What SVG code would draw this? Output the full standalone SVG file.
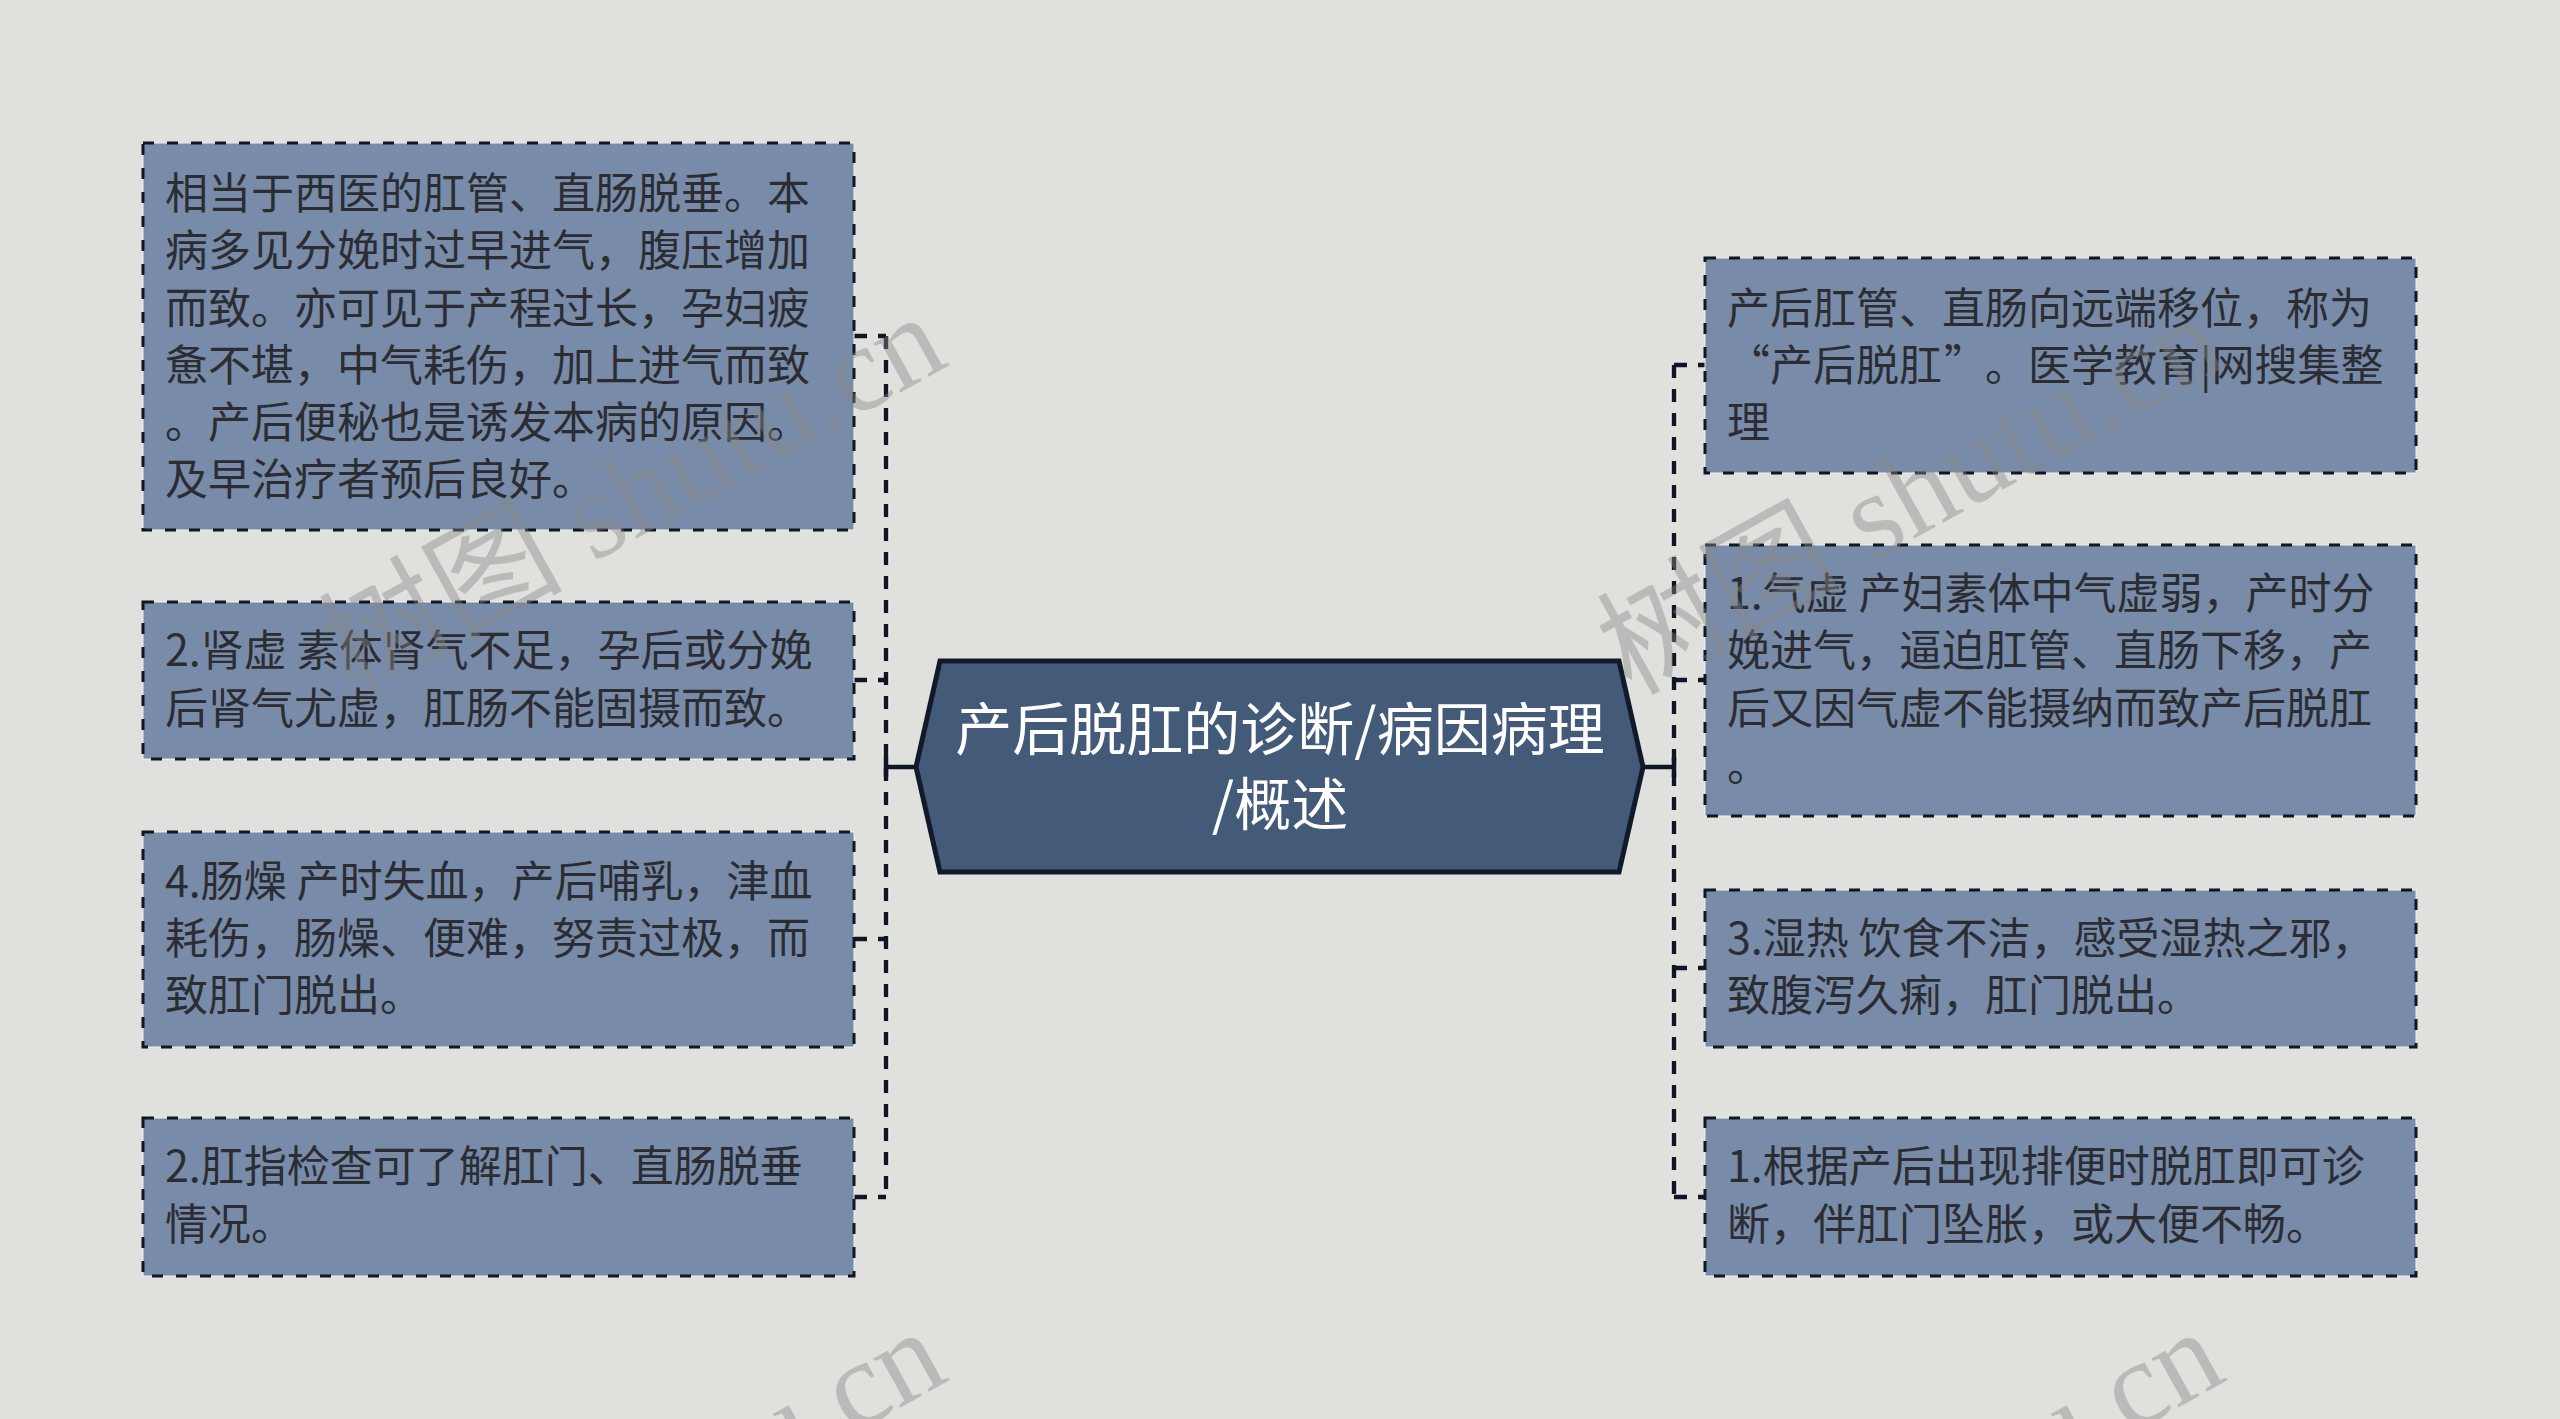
<svg xmlns="http://www.w3.org/2000/svg" width="2560" height="1419" viewBox="0 0 2560 1419">
<style>
.bg{fill:#e0e1dc}
.box{fill:#788ba8}
.boxhalo{fill:none;stroke:#eef0f2;stroke-width:1}
.boxline{fill:none;stroke:#0f1624;stroke-width:3;stroke-dasharray:11 13}
.t{font-family:"Noto Sans CJK SC","Noto Sans",sans-serif;font-size:43px;fill:#2c2d33}
.ct{font-family:"Noto Sans CJK SC","Noto Sans",sans-serif;font-size:57px;fill:#ffffff;text-anchor:middle}
.conn{fill:none;stroke:#0f1624;stroke-width:4.5;stroke-dasharray:13 11}
.connhalo{fill:none;stroke:#f4f5f4;stroke-width:7;stroke-dasharray:13 11}
.solid{fill:none;stroke:#0f1624;stroke-width:4.5}
.wm{font-family:"Liberation Serif","Noto Sans CJK SC",serif;font-size:122px;fill:#888888;opacity:0.42;text-anchor:middle}
</style>
<rect class="bg" x="0" y="0" width="2560" height="1419"/>

<g id="connectors">
  <path class="connhalo" d="M886,336 V1197"/>
  <path class="conn" d="M886,336 V1197"/>
  <path class="conn" d="M854,336 H886"/>
  <path class="conn" d="M854,680 H886"/>
  <path class="conn" d="M854,939 H886"/>
  <path class="conn" d="M854,1197 H886"/>
  <path class="solid" d="M886,767 H918"/>
  <path class="solid" d="M886,757 V777"/>
  <path class="connhalo" d="M1674,365 V1197"/>
  <path class="conn" d="M1674,365 V1197"/>
  <path class="conn" d="M1674,365 H1705"/>
  <path class="conn" d="M1674,680 H1705"/>
  <path class="conn" d="M1674,968 H1705"/>
  <path class="conn" d="M1674,1197 H1705"/>
  <path class="solid" d="M1641,767 H1674"/>
  <path class="solid" d="M1674,757 V777"/>
</g>

<g id="root">
  <polygon points="916,767 940,661 1619,661 1643,767 1619,872 940,872" fill="#435a78" stroke="#111a2a" stroke-width="5"/>
  <text class="ct" x="1280" y="750">产后脱肛的诊断/病因病理</text>
  <text class="ct" x="1280" y="825">/概述</text>
</g>

<g id="node-l1">
  <rect class="box" x="143" y="143" width="711" height="387"/>
  <rect class="boxhalo" x="143" y="143" width="711" height="387"/>
  <rect class="boxline" x="143" y="143" width="711" height="387"/>
  <text class="t">
    <tspan x="165" y="209">相当于西医的肛管、直肠脱垂。本</tspan>
    <tspan x="165" y="266">病多见分娩时过早进气，腹压增加</tspan>
    <tspan x="165" y="324">而致。亦可见于产程过长，孕妇疲</tspan>
    <tspan x="165" y="381">惫不堪，中气耗伤，加上进气而致</tspan>
    <tspan x="165" y="438">。产后便秘也是诱发本病的原因。</tspan>
    <tspan x="165" y="495">及早治疗者预后良好。</tspan>
  </text>
</g>

<g id="node-l2">
  <rect class="box" x="143" y="602" width="711" height="157"/>
  <rect class="boxhalo" x="143" y="602" width="711" height="157"/>
  <rect class="boxline" x="143" y="602" width="711" height="157"/>
  <text class="t">
    <tspan x="165" y="666">2.肾虚 素体肾气不足，孕后或分娩</tspan>
    <tspan x="165" y="724">后肾气尤虚，肛肠不能固摄而致。</tspan>
  </text>
</g>

<g id="node-l3">
  <rect class="box" x="143" y="832" width="711" height="215"/>
  <rect class="boxhalo" x="143" y="832" width="711" height="215"/>
  <rect class="boxline" x="143" y="832" width="711" height="215"/>
  <text class="t">
    <tspan x="165" y="897">4.肠燥 产时失血，产后哺乳，津血</tspan>
    <tspan x="165" y="954">耗伤，肠燥、便难，努责过极，而</tspan>
    <tspan x="165" y="1011">致肛门脱出。</tspan>
  </text>
</g>

<g id="node-l4">
  <rect class="box" x="143" y="1118" width="711" height="158"/>
  <rect class="boxhalo" x="143" y="1118" width="711" height="158"/>
  <rect class="boxline" x="143" y="1118" width="711" height="158"/>
  <text class="t">
    <tspan x="165" y="1182">2.肛指检查可了解肛门、直肠脱垂</tspan>
    <tspan x="165" y="1240">情况。</tspan>
  </text>
</g>

<g id="node-r1">
  <rect class="box" x="1705" y="258" width="711" height="215"/>
  <rect class="boxhalo" x="1705" y="258" width="711" height="215"/>
  <rect class="boxline" x="1705" y="258" width="711" height="215"/>
  <text class="t">
    <tspan x="1727" y="324">产后肛管、直肠向远端移位，称为</tspan>
  </text>
  <text class="t" x="1770" y="381" text-anchor="end">“</text>
  <text class="t" y="381"><tspan x="1770">产后脱肛</tspan><tspan x="1944">”</tspan><tspan x="1985">。医学教育|网搜集整</tspan></text>
  <text class="t" x="1727" y="438">理</text>
</g>

<g id="node-r2">
  <rect class="box" x="1705" y="545" width="711" height="271"/>
  <rect class="boxhalo" x="1705" y="545" width="711" height="271"/>
  <rect class="boxline" x="1705" y="545" width="711" height="271"/>
  <text class="t">
    <tspan x="1727" y="609">1.气虚 产妇素体中气虚弱，产时分</tspan>
    <tspan x="1727" y="666">娩进气，逼迫肛管、直肠下移，产</tspan>
    <tspan x="1727" y="724">后又因气虚不能摄纳而致产后脱肛</tspan>
    <tspan x="1727" y="781">。</tspan>
  </text>
</g>

<g id="node-r3">
  <rect class="box" x="1705" y="890" width="711" height="157"/>
  <rect class="boxhalo" x="1705" y="890" width="711" height="157"/>
  <rect class="boxline" x="1705" y="890" width="711" height="157"/>
  <text class="t">
    <tspan x="1727" y="954">3.湿热 饮食不洁，感受湿热之邪，</tspan>
    <tspan x="1727" y="1011">致腹泻久痢，肛门脱出。</tspan>
  </text>
</g>

<g id="node-r4">
  <rect class="box" x="1705" y="1118" width="711" height="158"/>
  <rect class="boxhalo" x="1705" y="1118" width="711" height="158"/>
  <rect class="boxline" x="1705" y="1118" width="711" height="158"/>
  <text class="t">
    <tspan x="1727" y="1182">1.根据产后出现排便时脱肛即可诊</tspan>
    <tspan x="1727" y="1240">断，伴肛门坠胀，或大便不畅。</tspan>
  </text>
</g>

<g id="watermarks">
  <text class="wm" transform="translate(652,530) rotate(-29)">树图 shutu.cn</text>
  <text class="wm" transform="translate(1930,530) rotate(-29)">树图 shutu.cn</text>
  <text class="wm" transform="translate(652,1545) rotate(-29)">树图 shutu.cn</text>
  <text class="wm" transform="translate(1930,1545) rotate(-29)">树图 shutu.cn</text>
</g>
</svg>
